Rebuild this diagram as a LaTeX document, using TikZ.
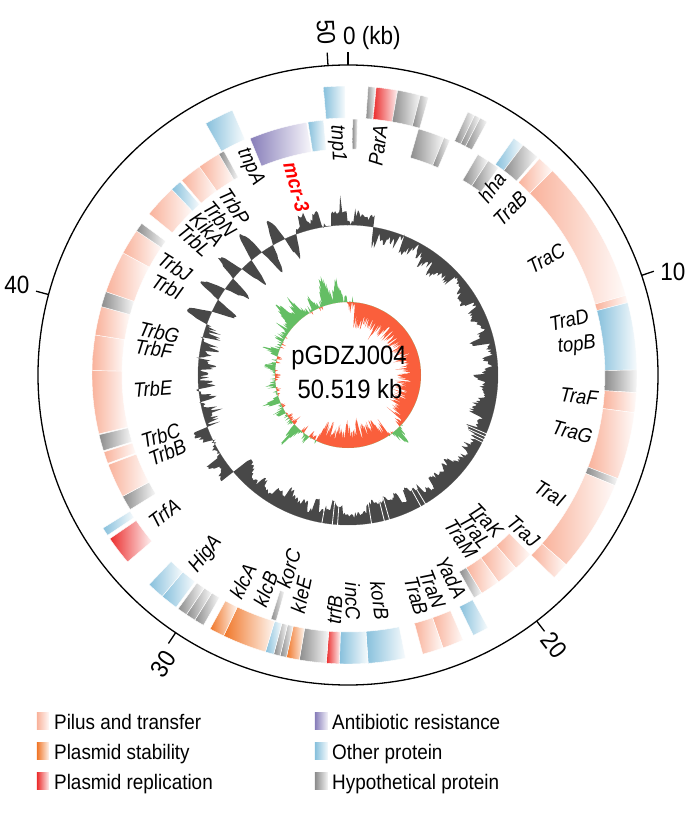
\documentclass[tikz,border=0pt]{standalone}
\usepackage{fontspec}
\setmainfont[FakeStretch=0.9]{Liberation Sans}

\definecolor{pilus}{RGB}{249,178,155}
\definecolor{stab}{RGB}{240,118,40}
\definecolor{repl}{RGB}{235,45,45}
\definecolor{abres}{RGB}{135,125,185}
\definecolor{other}{RGB}{135,192,220}
\definecolor{hypo}{RGB}{140,140,140}
\definecolor{gcdark}{RGB}{72,72,72}
\definecolor{skewpos}{RGB}{100,190,100}
\definecolor{skewneg}{RGB}{250,95,60}

% #1 start (kb angle, clockwise from top), #2 end, #3 inner r, #4 outer r, #5 colour
\newcommand{\genebox}[5]{%
  \path[gene=#5] (90-#1:#3) arc[start angle=90-#1, end angle=90-#2, radius=#3]
    -- (90-#2:#4) arc[start angle=90-#2, end angle=90-#1, radius=#4] -- cycle;}
% triangular peak of the skew plot: centre, height, half width
\newcommand{\spk}[3]{+#2*max(0,1-abs(\t-#1)/#3)}

\begin{document}
\begin{tikzpicture}[x=1pt, y=1pt,
    gene/.style={draw=white, line width=0.4pt, left color=#1, right color=#1!6},
    glabel/.style={font=\fontsize{20.5}{20.5}\selectfont\itshape, inner sep=0pt},
    ticklabel/.style={font=\fontsize{25}{25}\selectfont, inner sep=0pt},
    legtext/.style={font=\fontsize{21}{21}\selectfont, inner sep=0pt},
    centertext/.style={font=\fontsize{26.5}{28}\selectfont, inner sep=0pt}
]
\useasboundingbox (-348,-439) rectangle (341,375);

% outer circle and ticks
\draw[line width=1.3pt] (0,0) circle[radius=310];
\foreach \k in {0,10,...,50}
  \draw[line width=1.3pt] (90-\k*7.12603:310) -- (90-\k*7.12603:323);
\node[ticklabel, anchor=base west] (t0) at (-5,330) {0 (kb)};
\node[ticklabel, rotate=-86.3] (t50) at (-22,343) {50};
\node[ticklabel] (t10) at (325,103) {10};
\node[ticklabel, rotate=-52.5] (t20) at (206,-270) {20};
\node[ticklabel, rotate=56] (t30) at (-185,-289) {30};
\node[ticklabel] (t40) at (-331,90) {40};

% forward strand (outer track)
\foreach \a/\b/\c in {355.1/359.4/other, 4.0/5.5/hypo, 5.6/9.9/repl, 9.9/14.5/hypo,
    14.5/16.2/hypo, 24.5/26/hypo, 26/27.2/hypo, 27.2/28.8/hypo, 35/37.3/other,
    37.3/41/hypo, 41.5/45/pilus, 45/74/pilus, 74/75.5/pilus, 75.5/89/other,
    89/93.5/hypo, 93.5/97.5/pilus, 97.5/111/pilus, 111/112.5/hypo, 112.5/131/pilus,
    131/134.5/pilus, 151/154.3/other, 156.5/160.8/pilus, 160.8/165/pilus,
    168.5/176/other, 176/181.7/other, 181.7/184.3/repl, 184.3/189.7/hypo,
    189.7/192.3/stab, 192.3/193.6/hypo, 193.6/194.9/hypo, 194.9/196.6/other,
    196.6/205.5/stab, 205.5/208.5/stab, 210/212/hypo, 212/214/hypo, 214/216/hypo,
    216.5/220/other, 220/223.5/other, 229.7/235.5/repl, 236.3/238/other,
    330.5/336.4/other}
  \genebox{\a}{\b}{257}{289}{\c};

% reverse strand (inner track)
\foreach \a/\b/\c in {1.1/2.2/hypo, 16/22/hypo, 22/23.5/hypo, 30.5/33.2/hypo,
    33.2/36/hypo, 134.5/139/pilus, 139/144/pilus, 144/148.5/pilus, 148.5/150.5/hypo,
    196.3/197.5/hypo, 238.3/241.7/hypo, 241.7/249.5/pilus, 249.8/252.5/pilus,
    252.8/256.5/hypo, 256.7/271/pilus, 271/279/pilus, 279/285.5/pilus,
    285.5/289/hypo, 289/298.5/pilus, 298.5/304.3/pilus, 304.3/306.3/hypo,
    309/316.5/pilus, 316.5/319/other, 319.5/324.5/pilus, 324.5/329.7/pilus,
    329.7/331/hypo, 337.5/350.7/abres, 351/354.5/other}
  \genebox{\a}{\b}{226}{256}{\c};

% gene names
\foreach \t/\r/\txt [count=\k] in {7.5/252/ParA, 37.5/252/hha, 44.3/252/TraB,
    59.5/250/TraC, 76/248/TraD, 82.7/250/topB, 95.3/251/TraF, 104.2/252/TraG,
    120.5/250/TraI, 131.8/253/TraJ, 136.5/220/TraK, 141/220/TraL, 145.5/220/TraM,
    153/249/YadA, 158.5/250/TraN, 162.9/251/TraB, 172/247/korB, 178.8/245/incC,
    183.3/250/trfB, 192/243/kleE, 197/222/korC, 201/247/klcB, 207/249/klcA,
    218.5/249/HigA, 233/247/TrfA, 246.8/216/TrbB, 252/217/TrbC, 266/215/TrbE,
    277.6/215/TrbF, 282.7/214/TrbG, 296/217/TrbI, 302/222/TrbJ, 311.2/223/TrbL,
    316/222/KikA, 320.6/222/TrbN, 326/223/TrbP, 334.8/249/tnpA, 357.3/250/tnp1} {
  \ifdim\t pt<180pt
    \node[glabel, rotate=90-\t, anchor=east] (g\k) at (90-\t:\r) {\txt};
  \else
    \node[glabel, rotate=270-\t, anchor=west] (g\k) at (90-\t:\r) {\txt};
  \fi
}
\node[glabel, font=\fontsize{20.5}{20.5}\selectfont\bfseries\itshape, text=red,
  rotate=270-344.7, anchor=west] (mcr) at (90-344.7:220) {mcr-3};

% GC content
\pgfmathsetseed{7}
\gdef\gcpath{}
\gdef\blk{0}
\foreach \i in {0,...,720} {
  \pgfmathsetmacro\t{\i/2}
  \pgfmathtruncatemacro\rem{mod(\i,5)}
  \ifnum\rem=0
    \pgfmathsetmacro\s{(\t<90)?9:((\t<250)?8:((\t<290)?5:((\t<340)?3:12)))}
    \pgfmathsetmacro\b{\s*rand}
    \xdef\blk{\b}
  \fi
  \pgfmathsetmacro\m{(\t<10)?4:((\t<45)?-11:((\t<60)?-8:((\t<135)?-15:((\t<230)?-15:((\t<250)?8:((\t<290)?-9:((\t<340)?24*sin(36*(\t-290)):((\t<354)?8:((\t<358)?22:4)))))))))}
  \pgfmathsetmacro\f{(\t<45)?6:((\t<250)?3:((\t<290)?8:2.5))}
  \pgfmathsetmacro\r{150+\m+\blk+\f*rand}
  \pgfmathsetmacro\p{90-\t}
  \xdef\gcpath{\gcpath -- (\p:\r)}
}
\draw[gcdark!60, line width=0.4pt] (0,0) circle[radius=150];
\fill[gcdark] (90:150) \gcpath -- (-270:150) arc[start angle=-270, end angle=90, radius=150] -- cycle;
\foreach \t in {113,114.2,115.4,116.6,149,151,164,166,171,184,186,190}
  \draw[white, line width=0.8pt] (90-\t:120) -- (90-\t:152);

% GC skew
\gdef\pospath{}
\gdef\negpath{}
\foreach \i in {0,...,720} {
  \pgfmathsetmacro\t{\i/2}
  \pgfmathsetmacro\m{(\t<6)?-2:((\t<130)?-17:((\t<146)?-4:((\t<205)?-15:((\t<230)?-3:((\t<300)?0:2)))))}
  \pgfmathsetmacro\s{(\t<130)?9:((\t<146)?7:((\t<205)?9:((\t<230)?7:6)))}
  \pgfmathsetmacro\v{\m+\s*rand \spk{344}{27}{5}\spk{352}{24}{4}\spk{333}{10}{3}\spk{322}{20}{4}\spk{314}{24}{6}\spk{306}{10}{3}\spk{298}{9}{3}\spk{288}{13}{3}\spk{276}{11}{3}\spk{262}{10}{3}\spk{250}{13}{4}\spk{241}{10}{3}\spk{224}{22}{5}\spk{214}{10}{3}\spk{139}{20}{5}\spk{128}{6}{2}\spk{30}{-10}{2}\spk{55}{-8}{2}\spk{170}{-10}{3}\spk{180}{-8}{2}}
  \pgfmathsetmacro\rp{73+max(\v,0)}
  \pgfmathsetmacro\rn{73+min(\v,0)}
  \pgfmathsetmacro\p{90-\t}
  \xdef\pospath{\pospath -- (\p:\rp)}
  \xdef\negpath{\negpath -- (\p:\rn)}
}
\fill[skewneg] (90:73) \negpath -- (-270:73) arc[start angle=-270, end angle=90, radius=73] -- cycle;
\fill[skewpos] (90:73) \pospath -- (-270:73) arc[start angle=-270, end angle=90, radius=73] -- cycle;

\node[centertext] (plasmid) at (1,17) {pGDZJ004};
\node[centertext] (size) at (2,-14) {50.519 kb};

% legend
\foreach \y/\c/\txt in {0/pilus/Pilus and transfer, 1/stab/Plasmid stability,
    2/repl/Plasmid replication} {
  \shade[left color=\c, right color=\c!8] (-311,-354-30*\y) rectangle (-299,-337-30*\y);
  \node[legtext, anchor=base west] (legl\y) at (-294,-354-30*\y) {\txt};
}
\foreach \y/\c/\txt in {0/abres/Antibiotic resistance, 1/other/Other protein,
    2/hypo/Hypothetical protein} {
  \shade[left color=\c, right color=\c!8] (-33,-354-30*\y) rectangle (-20,-337-30*\y);
  \node[legtext, anchor=base west] (legr\y) at (-16,-354-30*\y) {\txt};
}
\end{tikzpicture}
\end{document}
